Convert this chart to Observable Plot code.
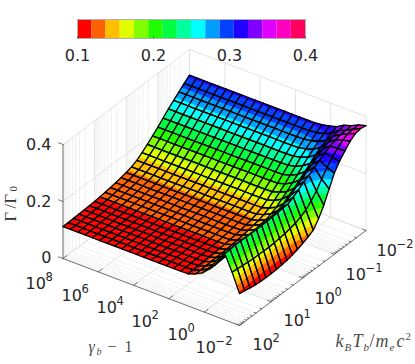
<!DOCTYPE html>
<html><head><meta charset="utf-8">
<style>html,body{margin:0;padding:0;background:#fff}#c{position:relative;width:415px;height:364px;overflow:hidden}#c svg{position:absolute;left:0;top:0}</style>
<script src="https://cdn.jsdelivr.net/npm/d3@7"></script>
<script src="https://cdn.jsdelivr.net/npm/@observablehq/plot@0.6"></script>
</head><body><div id="c"></div>
<script>
// 25 x 25 grid: log10(gamma_b - 1) from 10^-2 to 10^8, log10(kT/mc2) from 10^2 to 10^-2
const gammaCount = 25;
const tempCount = 25;
// Gamma/Gamma_0 read from the surface. Rows: gamma index from 10^-2 upward. Columns: T from 10^2 down to 10^-2.
const row0 = [.112,.108,.104,.101,.099,.098,.098,.099,.101,.104,.108,.114,.122,.130,.140,.166,.200,.243,.285,.313,.335,.355,.368,.372,.368];
const row1 = [.177,.175,.173,.171,.169,.169,.168,.168,.169,.171,.173,.178,.183,.191,.201,.219,.240,.268,.295,.316,.334,.349,.358,.360,.361];
const row2 = [.232,.233,.235,.235,.235,.234,.234,.234,.234,.235,.236,.239,.240,.250,.262,.277,.285,.300,.310,.322,.332,.340,.345,.347,.348];
const row3 = [.203,.204,.205,.206,.206,.206,.206,.207,.207,.209,.210,.214,.216,.224,.235,.250,.260,.275,.287,.301,.313,.322,.330,.335,.340];
const row4 = [.160,.160,.162,.162,.163,.163,.164,.165,.166,.168,.171,.174,.177,.185,.195,.209,.221,.236,.251,.266,.281,.294,.305,.316,.325];
const row5 = [.136,.136,.137,.138,.139,.140,.140,.142,.144,.146,.149,.153,.156,.163,.172,.186,.199,.215,.231,.248,.264,.278,.292,.305,.318];
const row6 = [.122,.122,.123,.124,.125,.125,.126,.128,.130,.133,.136,.140,.143,.150,.159,.172,.187,.202,.219,.236,.254,.269,.284,.299,.313];
const row7 = [.113,.113,.114,.115,.116,.117,.118,.120,.122,.125,.128,.132,.136,.142,.151,.164,.179,.195,.212,.230,.248,.264,.280,.296,.310];
const plateau = [.112,.112,.113,.114,.115,.116,.117,.119,.121,.124,.127,.131,.135,.141,.150,.163,.178,.194,.211,.229,.247,.263,.279,.295,.310];
const zRows = [row0,row1,row2,row3,row4,row5,row6,row7,...Array(17).fill(plateau)];

const colormap = ["#ff0000","#ff6000","#ffbf00","#dfff00","#80ff00","#20ff00","#00ff40","#00ff9f","#00ffff","#009fff","#0040ff","#2000ff","#8000ff","#df00ff","#ff00bf","#ff0060"];
const colorTicks = [0.1,0.2,0.3,0.4];
const zTicks = [0,0.2,0.4];
const zTickLabels = ["0","0.2","0.4"];
const gammaTicks = [8,6,4,2,0,-2];
const tempTicks = [-2,-1,0,1,2];

const band = (colorTicks[3]-colorTicks[0])/colormap.length;
const edges = colormap.map((_,k)=>colorTicks[0]+k*band).concat(colorTicks[3]);
const colorScale = {type:"threshold",domain:edges.slice(1,16),range:colormap};

// view transform of the box
const P = {ox:62.5,oy:258,gx:176.5,gy:67,tx:126.5,ty:-95,zy:285};
const proj = (lg,lt,z)=>{const f=(8-lg)/10,s=(2-lt)/4;return [P.ox+P.gx*f+P.tx*s,P.oy+P.gy*f+P.ty*s-P.zy*z];};
const lgAt = g=>-2+g*10/(gammaCount-1), ltAt = i=>2-i*4/(tempCount-1);

function clip(poly,lo,hi){
  const cut=(pts,keep,level)=>{const out=[];pts.forEach((a,n)=>{const b=pts[(n+1)%pts.length];const ka=keep(a),kb=keep(b);if(ka)out.push(a);if(ka!==kb){const t=(level-a[2])/(b[2]-a[2]);out.push([a[0]+t*(b[0]-a[0]),a[1]+t*(b[1]-a[1]),level]);}});return out;};
  let p=poly;
  if(lo!=null)p=cut(p,q=>q[2]>=lo,lo);
  if(p.length&&hi!=null)p=cut(p,q=>q[2]<=hi,hi);
  return p;
}
const pt=(g,i)=>[lgAt(g),ltAt(i),zRows[g][i]];
let pid=0;
function rowMarks(g){
  const fills=[],outs=[];
  for(let i=tempCount-2;i>=0;i--){
    const a=pt(g,i),b=pt(g,i+1),c=pt(g+1,i+1),d=pt(g+1,i);
    for(const tri of [[c,b,d],[b,a,d]]){
      for(let k=0;k<16;k++){
        const p=clip(tri,k?edges[k]:null,k<15?edges[k+1]:null);
        if(p.length<3)continue;
        const id=pid++;
        const mid=edges[k]+band/2;
        for(const q of p){const [x,y]=proj(q[0],q[1],q[2]);fills.push({x,y,id,v:mid});}
      }
    }
    const id=pid++;
    for(const q of [a,b,c,d,a]){const [x,y]=proj(q[0],q[1],q[2]);outs.push({x,y,id});}
  }
  return [
    Plot.line(fills,{x:"x",y:"y",z:"id",fill:"v",stroke:"v",strokeWidth:0.5,curve:"linear-closed"}),
    Plot.line(outs,{x:"x",y:"y",z:"id",stroke:"#000",strokeWidth:1.3,strokeLinejoin:"round"})
  ];
}
const surface=[];
for(let g=gammaCount-2;g>=0;g--)surface.push(...rowMarks(g));

// walls, floor
function lines(segs){const out=[];segs.forEach((s,id)=>s.forEach(p=>{const [x,y]=proj(...p);out.push({x,y,id});}));return out;}
const minorT=[];
for(let e=2;e>-2;e--)for(const m of [2,3,4,5,6,7,8,9])minorT.push(e-1+Math.log10(m));
const majorSegs=[];
for(const t of tempTicks){majorSegs.push([[-2,t,0],[8,t,0]]);majorSegs.push([[8,t,0],[8,t,.4]]);}
for(const g of gammaTicks){majorSegs.push([[g,2,0],[g,-2,0]]);majorSegs.push([[g,-2,0],[g,-2,.4]]);}
for(const z of zTicks){majorSegs.push([[8,2,z],[8,-2,z]]);majorSegs.push([[8,-2,z],[-2,-2,z]]);}
const minorSegs=[];
for(const t of minorT){minorSegs.push([[-2,t,0],[8,t,0]]);minorSegs.push([[8,t,0],[8,t,.4]]);}

// axes
const axisSegs=[[[8,2,0],[8,2,.4]],[[8,2,0],[-2,2,0]],[[-2,2,0],[-2,-2,0]]];
for(const z of zTicks)axisSegs.push([[8,2,z],[8.25,2,z]]);
for(const g of gammaTicks)axisSegs.push([[g,2,0],[g,1.88,0]]);
for(const t of tempTicks)axisSegs.push([[-2,t,0],[-1.8,t,0]]);
for(const t of minorT)axisSegs.push([[-2,t,0],[-1.9,t,0]]);

// labels
const numFont="DejaVu Sans";
const gammaLabelX=[25,61,96,131,167,195], gammaLabelY=[288,300,312,326,339,352];
const tempLabelX=[376,345,314,283,252], tempLabelY=[255,279,303,325,349];
const tenLabels=[...gammaTicks.map((e,n)=>({x:gammaLabelX[n],y:gammaLabelY[n],e})),...tempTicks.map((e,n)=>({x:tempLabelX[n],y:tempLabelY[n],e}))];
const zLabelY=[262,206,149];
const xTitle=[["k",335,346,18,"italic"],["B",344,350,11,"italic"],["T",352,346,18,"italic"],["b",363,350,11,"italic"],["/",369,346,18,"normal"],["m",375,346,18,"italic"],["e",389,350,11,"italic"],["c",396,346,18,"italic"],["2",405,339,11,"normal"]];
const yTitle=[["γ",88,351,16,"italic"],["b",96,354,10,"italic"],["−",107,351,16,"normal"],["1",124,351,16,"normal"]];
const serifPiece=(a)=>Plot.text([a],{x:d=>d[1],y:d=>d[2],text:d=>d[0],fontSize:a[3],fontStyle:a[4],fontFamily:"Liberation Serif",fill:"#4a4a4a",textAnchor:"start",lineAnchor:"bottom"});
const zTitle=[["Γ",15,221,16.5],["/",15,208,16.5],["Γ",15,203,16.5],["0",16,191,11]];

const scene=Plot.plot({
  width:415,height:364,margin:0,
  style:{background:"transparent"},
  x:{domain:[0,415],range:[0,415],axis:null},
  y:{domain:[0,364],range:[0,364],axis:null},
  color:colorScale,
  marks:[
    Plot.line(lines(minorSegs),{x:"x",y:"y",z:"id",stroke:"#dedede",strokeWidth:.6,strokeDasharray:"1,1.5"}),
    Plot.line(lines(majorSegs),{x:"x",y:"y",z:"id",stroke:"#e0e0e0",strokeWidth:.9}),
    Plot.line(lines(axisSegs),{x:"x",y:"y",z:"id",stroke:"#555",strokeWidth:.8}),
    ...surface,
    Plot.text(tenLabels,{x:"x",y:"y",text:()=>"10",fontSize:16,fontFamily:numFont,fill:"#262626",textAnchor:"start",lineAnchor:"bottom"}),
    Plot.text(tenLabels,{x:d=>d.x+20,y:d=>d.y-7.5,text:d=>String(d.e).replace("-","−"),fontSize:11.5,fontFamily:numFont,fill:"#262626",textAnchor:"start",lineAnchor:"bottom"}),
    Plot.text(zTickLabels,{x:()=>51,y:(_,n)=>zLabelY[n],text:d=>d,fontSize:16,fontFamily:numFont,fill:"#262626",textAnchor:"end",lineAnchor:"bottom"}),
    ...xTitle.map(serifPiece),...yTitle.map(serifPiece),
    Plot.text(zTitle,{x:d=>d[1],y:d=>d[2],text:d=>d[0],fontSize:d=>d[3],rotate:-90,fontFamily:"Liberation Serif",fill:"#333",textAnchor:"start",lineAnchor:"bottom"})
  ]
});
const bands=colormap.map((_,k)=>({x1:edges[k],x2:edges[k+1],v:edges[k]+band/2}));
const bar=Plot.plot({
  width:415,height:70,marginLeft:77,marginRight:110,marginTop:19,marginBottom:32,
  style:{background:"transparent",fontFamily:numFont},
  x:{domain:[0.1,0.4],axis:null},
  y:{domain:[0,1],axis:null},
  color:colorScale,
  marks:[
    Plot.rect(bands,{x1:"x1",x2:"x2",y1:0,y2:1,fill:"v"}),
    Plot.frame({stroke:"#b0b0b0"}),
    Plot.ruleX(colorTicks,{y1:0,y2:.08,stroke:"#262626",strokeWidth:.6}),
    Plot.axisX(colorTicks,{anchor:"bottom",tickSize:0,tickPadding:11,tickFormat:d3.format(".1f"),fontSize:16,fill:"#262626",label:null})
  ]
});
const c=document.getElementById("c");c.append(scene,bar);
</script></body></html>
